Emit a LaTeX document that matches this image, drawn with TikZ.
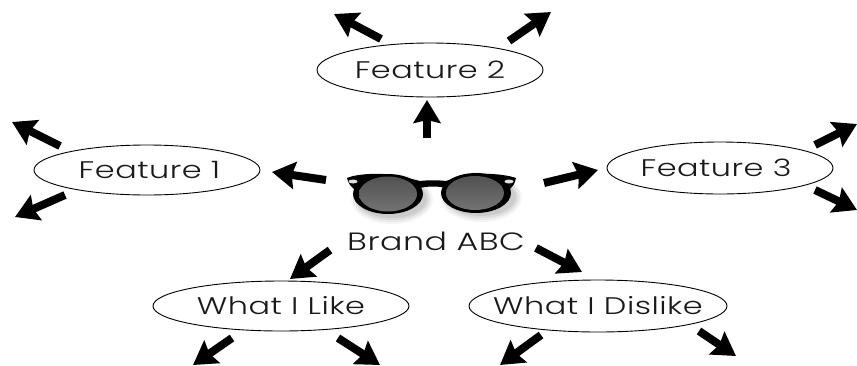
\documentclass[tikz,border=0pt]{standalone}
\usepackage{fontspec}
\setmainfont{Poppins Light}[FakeStretch=1.33,LetterSpace=2]
\usetikzlibrary{arrows.meta,shapes.geometric}
\tikzset{
 bubble/.style={draw=black,line width=0.9pt,fill=white,ellipse,inner sep=-30pt,text=black!90,font=\fontsize{24}{28}\selectfont},
 fatarrow/.style={line width=8pt,black,-{Stealth[length=23pt,width=27pt,inset=3pt]}},
 lens/.style={top color=black!68,bottom color=black!55,draw=none},
 rivet/.style={fill=black!12,draw=none},
}
\begin{document}
\begin{tikzpicture}[x=1pt,y=-1pt]
\useasboundingbox (0,0) rectangle (857,365);
\node[bubble,minimum width=226pt,minimum height=54pt] (f2) at (430,70) {Feature 2};
\node[bubble,minimum width=226pt,minimum height=50pt] (f1) at (147,170) {\hspace*{5pt}Feature 1};
\node[bubble,minimum width=226pt,minimum height=52pt] (f3) at (720,168) {\hspace*{-8pt}Feature 3};
\node[bubble,minimum width=256pt,minimum height=50pt] (like) at (281,306) {What I Like};
\node[bubble,minimum width=258pt,minimum height=52pt] (dislike) at (598,306) {What I Dislike};
\node[text=black!90,font=\fontsize{25}{30}\selectfont,inner sep=0pt] (brand) at (436,241) {Brand ABC};
% sunglasses shadow
\foreach \o/\e in {0.04/7,0.05/5,0.06/3,0.07/1}{
 \fill[black,opacity=\o] (392,199) ellipse ({34+\e} and {18+\e});
 \fill[black,opacity=\o] (481,197) ellipse ({34+\e} and {18+\e});
}
% frame
\fill[black] (388,194) ellipse (35 and 20);
\fill[black] (476,193) ellipse (35 and 20);
\fill[black] (347,178) .. controls (356,174) and (380,172) .. (400,176) -- (420,181) .. controls (428,180) and (438,180) .. (446,181) -- (460,176) .. controls (480,172) and (505,174) .. (516,178)
 .. controls (515,184) and (512,188) .. (508,190) -- (446,188) .. controls (438,186) and (428,186) .. (420,188) -- (358,192) .. controls (352,188) and (348,184) .. (347,178) -- cycle;
\node[ellipse,lens,minimum width=58pt,minimum height=35pt,inner sep=0pt] (lensl) at (388,194) {};
\node[ellipse,lens,minimum width=58pt,minimum height=34pt,inner sep=0pt] (lensr) at (475,193) {};
\fill[rivet] (353,181.5) ellipse (4.5 and 2);
\fill[rivet] (509,181.5) ellipse (4.5 and 2);
% arrow ends
\foreach \n/\x/\y in {a/381/39,b/334/14,c/509/41,d/551/12,e/427/138,f/427/100,
 g/60/146,h/12/122,i/65/195,j/15/217,k/326/180,l/272/172,m/544/183,n/598/170,
 o/815/145,p/857/124,q/815/190,r/857/210,s/330/250,t/290/279,u/536/248,v/582/272,
 w/232/338,x/193/365,y/338/338,z/380/365,aa/541/335,ab/500/365,ac/699/331,ad/736/356}
 {\coordinate (\n) at (\x,\y);}
\foreach \s/\t in {a/b,c/d,e/f,g/h,i/j,k/l,m/n,o/p,q/r,s/t,u/v,w/x,y/z,aa/ab,ac/ad}
 {\draw[fatarrow] (\s) -- (\t);}
\end{tikzpicture}
\end{document}
